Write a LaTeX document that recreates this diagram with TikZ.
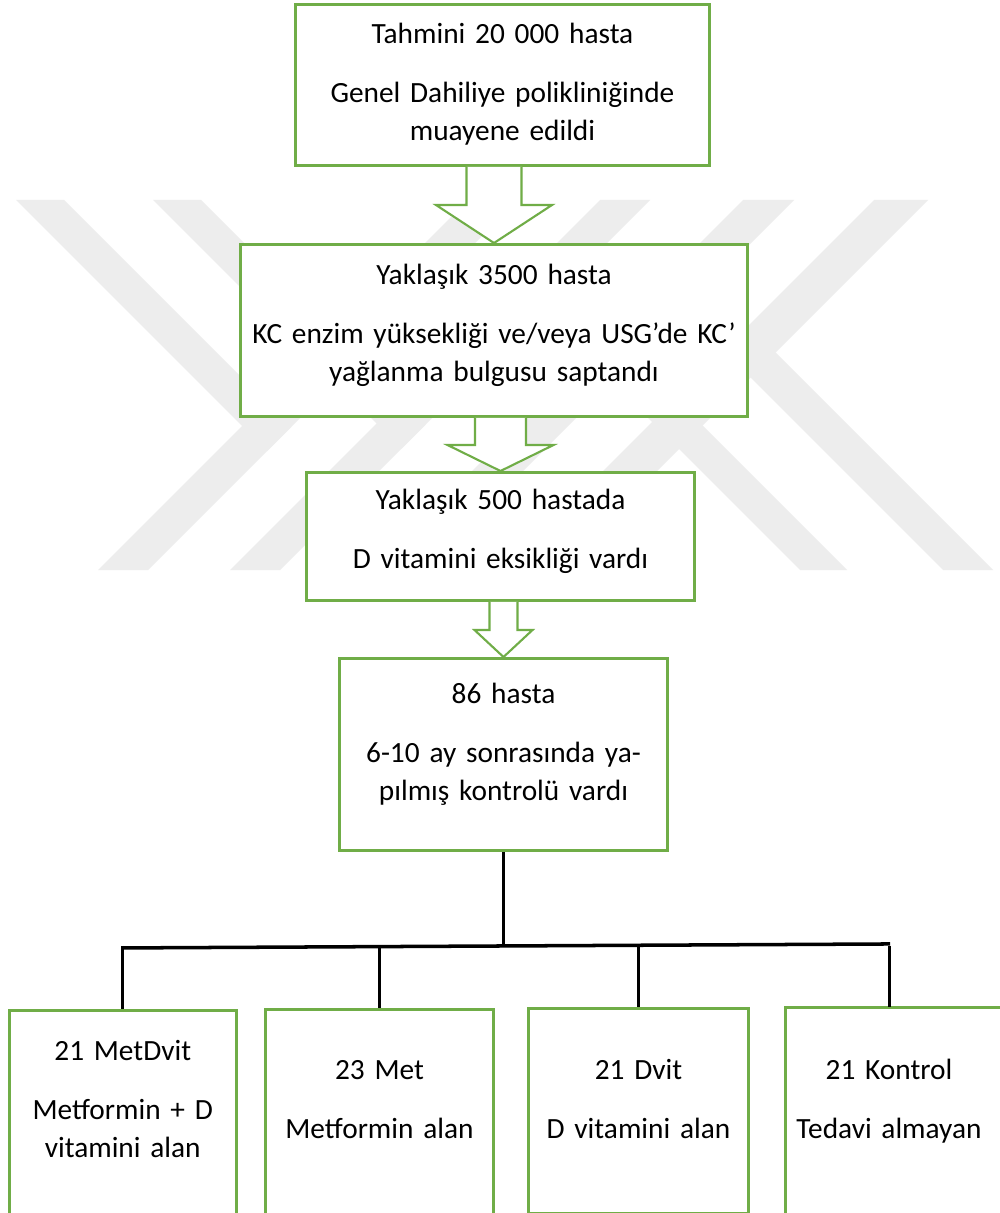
\documentclass[tikz,border=0pt]{standalone}
\usepackage{fontspec}
\setmainfont{Carlito}
\usetikzlibrary{calc}
\definecolor{boxgreen}{RGB}{112,173,71}
\definecolor{markgray}{RGB}{237,237,237}
\tikzset{
  flowbox/.style={draw=boxgreen, line width=1.7pt, fill=white, anchor=north, align=center,
    inner sep=0pt, font=\fontsize{16.7}{21.6}\selectfont},
  arrowline/.style={draw=boxgreen, line width=1.2pt, fill=white, line join=miter},
  treeline/.style={draw=black, line width=1.7pt},
}
\newcommand{\blockarrow}[5]{%
  \draw[arrowline] let \p1=(#1), \p2=(#2) in
    (\x2-#3,\y1) -- (\x2-#3,\y2+#5) -- (\x2-#4,\y2+#5) -- (\x2,\y2)
    -- (\x2+#4,\y2+#5) -- (\x2+#3,\y2+#5) -- (\x2+#3,\y1);}
\begin{document}
\begin{tikzpicture}[x=0.02cm, y=-0.02cm]
\useasboundingbox (0,0) rectangle (1000,1213);
\clip (0,0) rectangle (1000,1213);
\fill[white] (0,0) rectangle (1000,1213);
% watermark
\fill[markgray] (98,570) -- (148,570) -- (518,200) -- (468,200) -- cycle;
\fill[markgray] (16,200) -- (64,200) -- (291,427) -- (267,451) -- cycle;
\fill[markgray] (230,570) -- (280,570) -- (650,200) -- (600,200) -- cycle;
\fill[markgray] (153,200) -- (201,200) -- (425.5,424.5) -- (401.5,448.5) -- cycle;
\fill[markgray] (874,200) -- (928,200) -- (558,570) -- (504,570) -- cycle;
\fill[markgray] (943,570) -- (993,570) -- (748.5,325.5) -- (723.5,350.5) -- cycle;
\fill[markgray] (743,200) -- (794,200) -- (424,570) -- (373,570) -- cycle;
\fill[markgray] (800,570) -- (847,570) -- (610,333) -- (586.5,356.5) -- cycle;

\node[flowbox, text width=8.3cm, text height=0.78cm, text depth=2.44cm] (tahmini) at (502.5,3)
  {Tahmini 20 000 hasta\\[0.42cm]Genel Dahiliye polikliniğinde\\muayene edildi};
\node[flowbox, text width=10.16cm, text height=0.8cm, text depth=2.64cm] (yaklasik) at (494,243)
  {Yaklaşık 3500 hasta\\[0.42cm]KC enzim yüksekliği ve/veya USG’de KC’\\yağlanma bulgusu saptandı};
\node[flowbox, text width=7.78cm, text height=0.74cm, text depth=1.82cm] (eksiklik) at (500.5,471)
  {Yaklaşık 500 hastada\\[0.42cm]D vitamini eksikliği vardı};
\node[flowbox, text width=6.58cm, text height=0.9cm, text depth=2.94cm] (kontrollu) at (503.5,657)
  {86 hasta\\[0.42cm]6-10 ay sonrasında ya-\\pılmış kontrolü vardı};

\blockarrow{tahmini.south}{yaklasik.north}{0.55cm}{1.16cm}{0.76cm}
\blockarrow{yaklasik.south}{eksiklik.north}{0.51cm}{1.06cm}{0.52cm}
\blockarrow{eksiklik.south}{kontrollu.north}{0.28cm}{0.58cm}{0.54cm}

\draw[treeline] (kontrollu.south) -- ++(0,94) coordinate (hub);

\node[flowbox, text width=4.54cm, text height=1cm, text depth=3.42cm] (metdvit) at (122.75,1009)
  {21 MetDvit\\[0.42cm]Metformin + D\\vitamini alan};
\node[flowbox, text width=4.58cm, text height=1.4cm, text depth=3.04cm] (met) at (379.5,1008)
  {23 Met\\[0.42cm]Metformin alan};
\node[flowbox, text width=4.4cm, text height=1.42cm, text depth=2.69cm] (dvit) at (638.5,1007)
  {21 Dvit\\[0.42cm]D vitamini alan};
\node[flowbox, draw=none, text width=4.08cm, text height=1.42cm, text depth=3.04cm] (kontrol) at (889,1007)
  {21 Kontrol\\[0.42cm]Tedavi almayan};
\draw[draw=boxgreen, line width=1.7pt] (kontrol.south west) -- (kontrol.north west) -- ++(260,0);

\draw[treeline, line width=2pt] ($(metdvit.north |- hub)+(-1,2)$) -- ($(kontrol.north |- hub)+(1,-2)$);
\foreach \grp in {metdvit,met,dvit,kontrol}
  \draw[treeline] (\grp.north |- hub) -- (\grp.north);
\end{tikzpicture}
\end{document}
